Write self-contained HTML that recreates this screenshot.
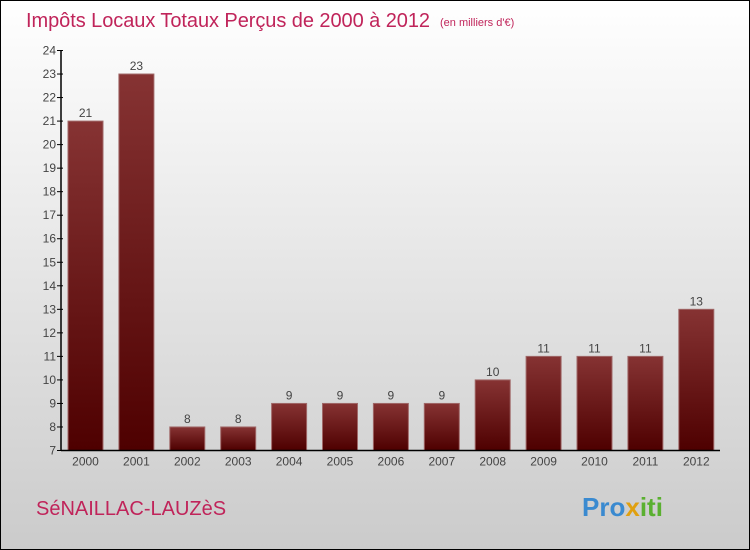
<!DOCTYPE html>
<html><head><meta charset="utf-8"><style>
body{margin:0;width:750px;height:550px;overflow:hidden}
svg{display:block;font-family:"Liberation Sans",sans-serif}
</style></head><body>
<svg id="c" width="750" height="550">
<defs>
<linearGradient id="bg" x1="0" y1="0" x2="0" y2="1"><stop offset="0" stop-color="#ffffff"/><stop offset="1" stop-color="#cbcbcb"/></linearGradient>
<linearGradient id="bar" x1="0" y1="0" x2="0" y2="1"><stop offset="0" stop-color="#863333"/><stop offset="1" stop-color="#4e0000"/></linearGradient>
</defs>
<rect x="0.5" y="0.5" width="749" height="549" fill="url(#bg)" stroke="#000"/>
<text x="26" y="27" font-size="20" fill="#c0245a" textLength="404">Impôts Locaux Totaux Perçus de 2000 à 2012</text>
<text x="440" y="26" font-size="11" fill="#c0245a">(en milliers d'€)</text>
<text x="36" y="515" font-size="20" fill="#c0245a">SéNAILLAC-LAUZèS</text>
<text x="582" y="516" font-size="26" font-weight="bold" fill="#3a8ad0">Pro<tspan fill="#e0a010">x</tspan><tspan fill="#5ab030">iti</tspan></text>
<g id="plot"></g>
</svg>
<script>
const categories=["2000","2001","2002","2003","2004","2005","2006","2007","2008","2009","2010","2011","2012"];
const values=[21,23,8,8,9,9,9,9,10,11,11,11,13];
const yTicks=[7,8,9,10,11,12,13,14,15,16,17,18,19,20,21,22,23,24];
const NS="http://www.w3.org/2000/svg";
const g=document.getElementById('plot');
const x0=61,x1=720,yMin=7,yMax=24,py0=450.5,py1=50.5;
const y=v=>py0-(v-yMin)*(py0-py1)/(yMax-yMin);
const step=50.9,bw=35;
const xc=i=>68+bw/2+i*step;
function el(t,a){const e=document.createElementNS(NS,t);for(const k in a)e.setAttribute(k,a[k]);g.appendChild(e);return e;}
yTicks.forEach(v=>{
 const l=el('line',{x1:x0-4,x2:x0+2,y1:y(v),y2:y(v),stroke:'#000'});
 
 
 const t=el('text',{x:x0-5,y:y(v)+4,'font-size':12,'text-anchor':'end',fill:'#444'});
 t.textContent=v;
 
 
});
values.forEach((v,i)=>{
 const r=el('rect',{x:xc(i)-bw/2,y:y(v),width:bw,height:py0-y(v),fill:'url(#bar)',stroke:'#a06868','stroke-width':1});
 
 
 const t=el('text',{x:xc(i),y:y(v)-4,'font-size':12,'text-anchor':'middle',fill:'#444'});
 t.textContent=v;
 
 
 const c=el('text',{x:xc(i),y:py0+15,'font-size':12,'text-anchor':'middle',fill:'#444'});
 c.textContent=categories[i];
 
 
});
const ya=el('line',{x1:x0,x2:x0,y1:py1,y2:py0,stroke:'#000','stroke-width':1.5});


const xa=el('line',{x1:x0,x2:x1,y1:py0,y2:py0,stroke:'#000','stroke-width':1.5});


</script>
</body></html>
